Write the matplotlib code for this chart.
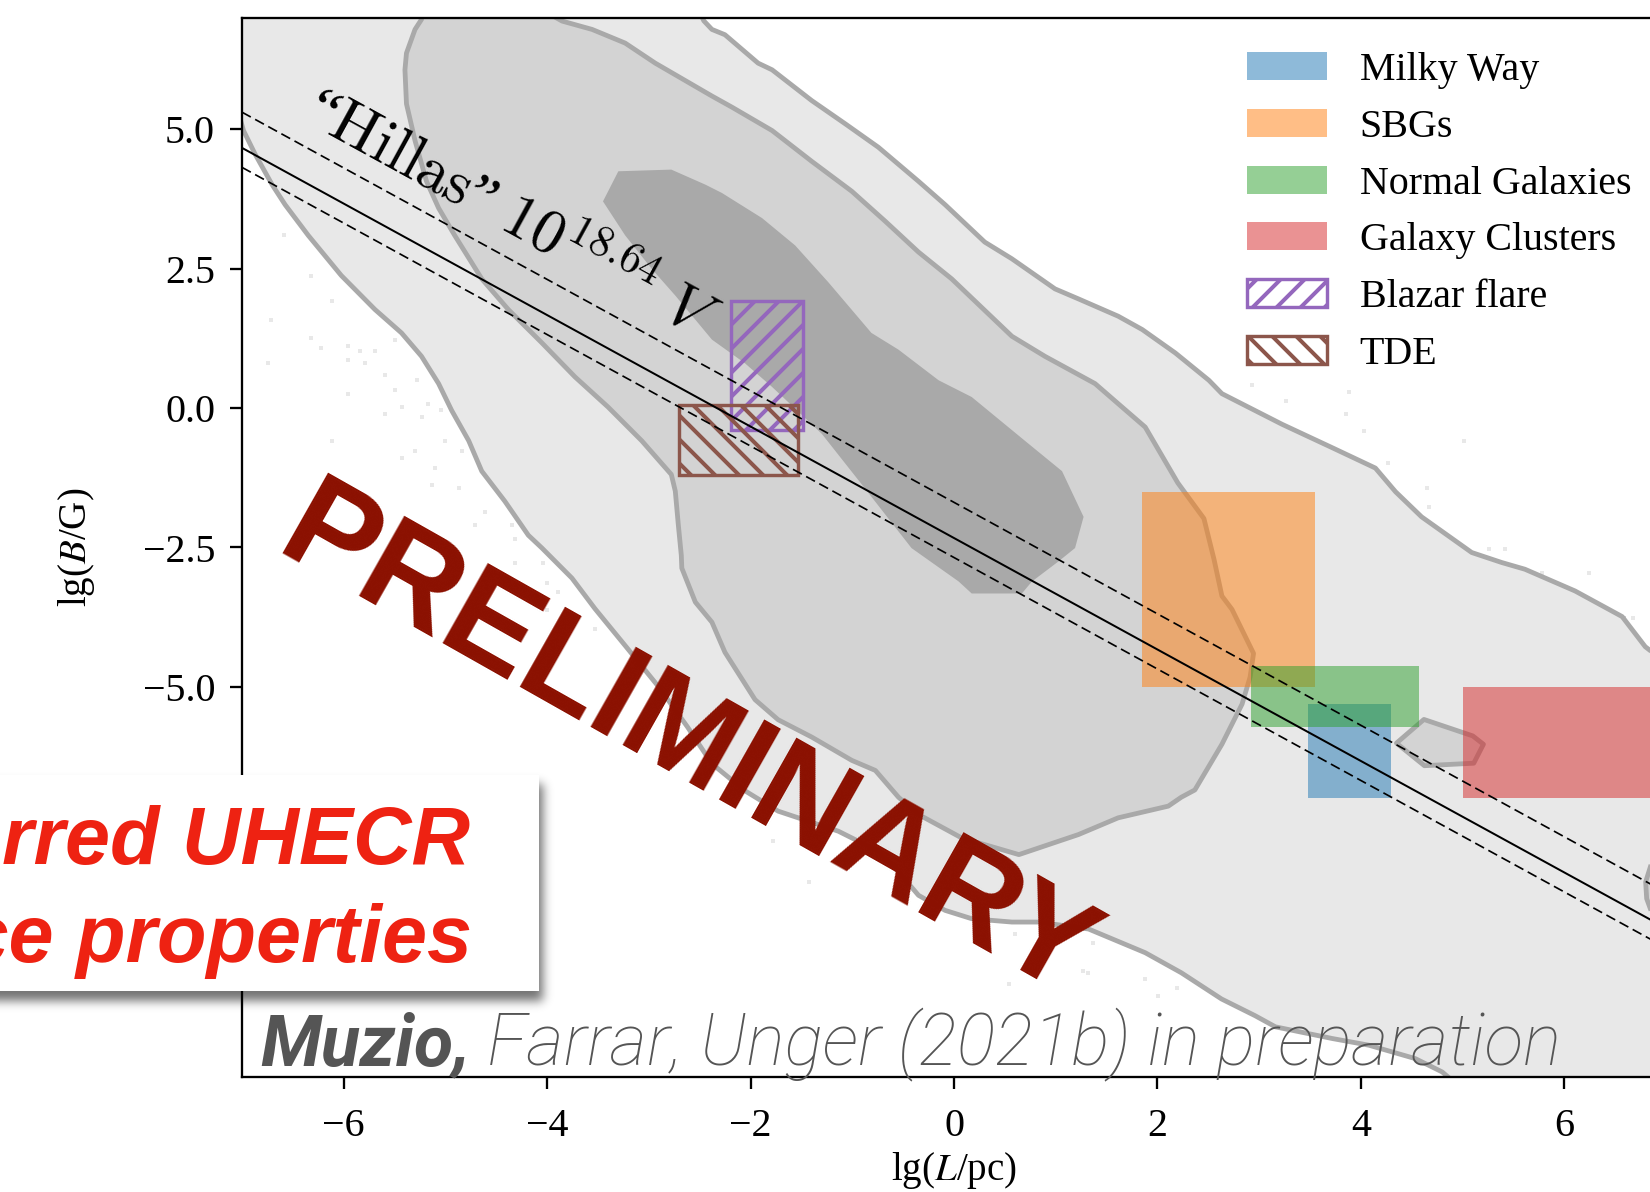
import numpy as np
import matplotlib
matplotlib.use("Agg")
import matplotlib.pyplot as plt
from matplotlib.patches import Polygon, Rectangle

W_PX, H_PX, DPI = 1650, 1192, 144
FS = 20

plt.rcParams.update({
    "font.family": ["Liberation Serif", "DejaVu Serif"],
    "mathtext.fontset": "stix",
    "font.size": FS,
    "hatch.linewidth": 2.0,
    "axes.linewidth": 1.15,
    "xtick.major.size": 6, "ytick.major.size": 6,
    "xtick.major.width": 1.15, "ytick.major.width": 1.15,
    "xtick.major.pad": 9.5, "ytick.major.pad": 7.5,
    "xtick.labelsize": FS, "ytick.labelsize": FS,
})

# ---------------- data ----------------
lgL_limits = [-7.0, 7.0]
lgB_limits = [-12.0, 7.0]

# outer (light) credible region outline
outer_lgL = [-7.02, -7.02, -6.985, -6.872, -6.704, -6.576, -6.349, -6.024, -5.693, -5.432,
             -5.235, -5.067, -4.939, -4.771, -4.643, -4.416, -4.185, -4.051, -3.756, -3.529,
             -3.233, -2.908, -2.62, -2.38, -2.055, -1.729, -1.137, -0.743, -0.546, -0.349,
             -0.088, 0.174, 0.569, 0.830, 1.323, 1.880, 2.235, 2.63, 2.96, 3.16, 3.72, 4.08,
             4.535, 4.80, 5.05, 5.3, 7.8, 7.8, 7.2, 6.796, 6.569, 6.106, 5.613, 5.386, 5.09,
             4.597, 4.341, 4.143, 3.719, 3.226, 2.634, 2.506, 2.176, 1.851, 1.614, 1.224,
             0.993, 0.569, 0.302, -0.087, -0.349, -0.743, -1.068, -1.40, -1.788, -1.926,
             -2.252, -2.38, -2.46, -2.6]
outer_lgB = [7.5, 5.2, 4.98, 4.56, 4.01, 3.65, 3.10, 2.38, 1.77, 1.35,
             0.93, 0.44, -0.04, -0.585, -1.13, -1.67, -2.28, -2.51, -3.05, -3.60,
             -4.26, -4.99, -5.72, -6.38, -6.865, -7.23, -7.59, -7.95, -8.32, -8.74,
             -9.01, -9.16, -9.22, -9.22, -9.345, -9.77, -10.13, -10.60, -10.90, -11.10, -11.31, -11.43,
             -11.67, -11.91, -12.3, -12.8, -12.8, -5.6, -4.85, -4.28, -3.74, -3.28, -2.89, -2.77, -2.59,
             -1.95, -1.50, -1.075, -0.71, -0.29, 0.26, 0.50, 0.99, 1.41, 1.65, 1.96,
             2.14, 2.68, 2.98, 3.65, 4.07, 4.68, 5.10, 5.52, 6.07, 6.19,
             6.70, 6.795, 6.95, 7.5]

# middle credible region outline
mid_lgL = [-5.25, -5.235, -5.299, -5.383, -5.398, -5.383, -5.299, -5.186, -5.067, -4.909,
           -4.643, -4.382, -4.051, -3.726, -3.401, -3.07, -2.779, -2.74, -2.71, -2.681,
           -2.676, -2.543, -2.38, -2.252, -1.956, -1.729, -1.40, -1.004, -0.773, -0.546,
           -0.349, 0.075, 0.638, 1.224, 1.614, 2.107, 2.235, 2.368, 2.634, 2.832, 2.911,
           2.945, 2.733, 2.634, 2.556, 2.457, 2.2, 1.88, 1.614, 1.387, 0.894, 0.569,
           -0.023, -0.349, -0.674, -1.004, -1.40, -1.788, -2.183, -2.38, -2.937, -3.233,
           -3.558, -3.853, -4.3]
mid_lgB = [7.4, 6.975, 6.795, 6.37, 6.07, 5.46, 4.80, 4.07, 3.59, 3.10,
           2.32, 1.77, 1.17, 0.56, 0.02, -0.585, -1.19, -1.49, -2.10, -2.64,
           -2.87, -3.48, -3.84, -4.38, -5.23, -5.59, -5.90, -6.32, -6.50, -6.98,
           -7.29, -7.71, -8.01, -7.65, -7.35, -7.14, -6.98, -6.85, -6.03, -5.31, -4.825,
           -4.40, -3.61, -3.37, -2.71, -1.98, -1.34, -0.34, 0.08, 0.44, 0.93, 1.29,
           2.32, 2.80, 3.35, 3.89, 4.43, 4.98, 5.40, 5.60, 6.19, 6.55,
           6.795, 6.945, 7.4]

# inner (dark) credible region outline
dark_lgL = [-3.451, -3.30, -2.779, -2.444, -2.281, -1.887, -1.562, -1.236, -0.812, -0.546,
            -0.151, 0.174, 0.697, 1.062, 1.274, 1.19, 1.027, 0.766, 0.667, 0.174,
            0.046, -0.279, -0.418, -0.906, -1.30, -1.788, -2.055, -2.38, -2.74, -2.972, -3.233]
dark_lgB = [3.71, 4.25, 4.28, 4.01, 3.86, 3.41, 2.92, 2.26, 1.35, 1.05,
            0.50, 0.20, -0.585, -1.13, -1.95, -2.51, -2.75, -3.11, -3.325, -3.325,
            -3.11, -2.69, -2.51, -1.37, -0.46, 0.38, 0.805, 1.23, 2.02, 2.50, 3.10]

# small detached middle-level islands
island_lgL = [4.35, 4.62, 5.10, 5.205, 5.11, 4.625]
island_lgB = [-6.01, -5.585, -5.88, -6.03, -6.37, -6.415]
edge_lgL = [6.86, 6.80, 6.81, 6.86, 7.5, 7.5]
edge_lgB = [-8.15, -8.5, -8.8, -9.05, -9.4, -7.9]

# individual posterior samples outside the contours
sample_lgL = [-6.59, -6.32, -6.12, -6.71, -6.32, -6.22, -5.955, -5.84, -5.69, -5.50, -6.74,
              -5.955, -5.79, -5.595, -5.50, -5.28, -5.955, -5.595, -5.43, -5.17, -5.23, -5.04,
              -6.12, -5.43, -5.30, -5.005, -5.10, -4.84, -5.135, -4.87, -4.61, -4.71, -4.35,
              -4.32, -4.32, -4.04, -4.00, -3.89, -4.00, -3.53, -1.775, -1.43, 0.60, 1.37,
              1.27, 1.32, 0.54, 1.88, 2.01, 2.19, 2.93, 3.26, 3.88, 3.85, 4.03, 4.27, 4.65,
              4.67, 5.01, 5.26, 5.42, 5.78, 6.24, 6.585, 6.585, 6.68]
sample_lgB = [3.10, 2.38, 1.93, 1.59, 1.26, 1.08, 1.11, 1.02, 1.02, 1.23, 0.81,
              0.87, 0.81, 0.59, 0.32, 0.50, 0.26, -0.10, 0.02, 0.08, -0.16, -0.04,
              -0.585, -0.89, -0.77, -0.585, -1.07, -0.77, -1.37, -1.43, -1.86, -2.10, -2.10,
              -2.34, -2.78, -2.78, -3.14, -3.30, -3.63, -3.96, -7.77, -8.50, -9.43, -9.59,
              -10.10, -10.14, -10.34, -10.25, -10.55, -10.40, 0.41, 0.13, 0.29, -0.11, -0.41, -0.98, -1.44,
              -1.77, -0.59, -2.53, -2.53, -2.95, -2.95, -3.77, -3.77, -3.77]

# source classes: lg(L/pc) and lg(B/G) ranges
source_names = ["Milky Way", "SBGs", "Normal Galaxies", "Galaxy Clusters", "Blazar flare", "TDE"]
source_lgL_lo = [3.48, 1.85, 2.92, 5.00, -2.19, -2.70]
source_lgL_hi = [4.30, 3.55, 4.57, 7.50, -1.48, -1.53]
source_lgB_lo = [-7.00, -5.00, -5.72, -7.00, -0.40, -1.20]
source_lgB_hi = [-5.30, -1.50, -4.62, -5.00, 1.93, 0.05]
source_colors = ["tab:blue", "tab:orange", "tab:green", "tab:red", "tab:purple", "tab:brown"]
source_hatch = [None, None, None, None, "//", "\\\\"]

# Hillas condition lg B = c - lg L (central value and band)
hillas_intercepts = [-1.69, -2.33, -2.68]
hillas_styles = ["--", "-", "--"]

xticks = [-6, -4, -2, 0, 2, 4, 6]
yticks = [-5.0, -2.5, 0.0, 2.5, 5.0]

# ---------------- figure ----------------
fig = plt.figure(figsize=(W_PX / DPI + 1e-6, H_PX / DPI + 1e-6), dpi=DPI)
ax = fig.add_axes([242 / W_PX, (H_PX - 1077) / H_PX, 1424 / W_PX, 1059 / H_PX])
ax.set_xlim(*lgL_limits)
ax.set_ylim(*lgB_limits)

ax.scatter(sample_lgL, sample_lgB, s=6, marker="s", c="k", alpha=0.09, lw=0, zorder=0.5)

line_gray = "#a9a9a9"
for xs, ys, fc, z in [(outer_lgL, outer_lgB, "#e8e8e8", 1.0),
                      (mid_lgL, mid_lgB, "#d3d3d3", 1.2),
                      (island_lgL, island_lgB, "#d3d3d3", 1.2),
                      (edge_lgL, edge_lgB, "#d3d3d3", 1.2)]:
    pts = np.column_stack([xs, ys])
    ax.add_patch(Polygon(pts, closed=True, fc=fc, ec="none", zorder=z))
    ax.add_patch(Polygon(pts, closed=True, fill=False, ec=line_gray, lw=2.4,
                         joinstyle="round", zorder=z + 0.05))
ax.add_patch(Polygon(np.column_stack([dark_lgL, dark_lgB]), closed=True,
                     fc="#a9a9a9", ec="none", zorder=1.4))

for name, x0, x1, y0, y1, col, h in zip(source_names, source_lgL_lo, source_lgL_hi,
                                        source_lgB_lo, source_lgB_hi, source_colors, source_hatch):
    if h is None:
        ax.add_patch(Rectangle((x0, y0), x1 - x0, y1 - y0, fc=col, alpha=0.5, lw=0,
                               label=name, zorder=2))
    else:
        p = Rectangle((x0, y0), x1 - x0, y1 - y0, fc="none", ec=col, hatch=h,
                      lw=1.7, label=name, zorder=3)
        if hasattr(p, "set_hatch_linewidth"):
            p.set_hatch_linewidth(2.0)
        ax.add_patch(p)

lgL_line = np.array(lgL_limits)
for c, ls in zip(hillas_intercepts, hillas_styles):
    if ls == "-":
        ax.plot(lgL_line, c - lgL_line, color="k", lw=1.0, zorder=4)
    else:
        ax.plot(lgL_line, c - lgL_line, color="k", lw=0.85, dashes=(5.9, 2.9), zorder=4)

ax.text(-4.36, 3.45, "\u201c$\\mathrm{Hillas}$\u201d $10^{18.64}\\ V$", rotation=-45,
        transform_rotates_text=True, rotation_mode="anchor", ha="center", va="center",
        fontsize=31, math_fontfamily="cm", zorder=5)

ax.set_xticks(xticks)
ax.set_yticks(yticks)
ax.tick_params(top=False, right=False)
ax.set_xlabel("lg($L$/pc)", fontsize=19.5)
ax.set_ylabel("lg($B$/G)", fontsize=19.5)
ax.xaxis.set_label_coords(0.5, -0.069)
ax.yaxis.set_label_coords(-0.102, 0.5)

leg = ax.legend(loc="upper left", bbox_to_anchor=(1246.7 / W_PX, 1 - 52 / H_PX),
                bbox_transform=fig.transFigure, frameon=False, borderpad=0,
                borderaxespad=0, handlelength=2.0, handleheight=0.7,
                handletextpad=0.82, labelspacing=0.495, fontsize=FS)
leg.set_zorder(10)

# watermark
fig.text(669 / W_PX, 1 - 777 / H_PX, "PRELIMINARY", rotation=-29.5, rotation_mode="anchor",
         ha="center", va="baseline", fontsize=66.5, fontweight="bold",
         family="Liberation Sans", color="#8B1000", zorder=8)

# callout box with soft drop shadow
box_right, box_top, box_bottom = 539, 775, 991
reg_x0, reg_x1, reg_y0, reg_y1 = 0, 620, 730, 1060
yy, xx = np.mgrid[reg_y0:reg_y1, reg_x0:reg_x1]
mask = ((xx <= box_right + 3) & (yy >= box_top + 9) & (yy <= box_bottom + 9)).astype(float)
sig = 5.0
t = np.arange(-15, 16)
k = np.exp(-0.5 * (t / sig) ** 2)
k /= k.sum()
padded = np.pad(mask, 15, mode="edge")
blur = np.apply_along_axis(lambda r: np.convolve(r, k, mode="same"), 1, padded)
blur = np.apply_along_axis(lambda c: np.convolve(c, k, mode="same"), 0, blur)[15:-15, 15:-15]
shadow = np.zeros(mask.shape + (4,))
shadow[..., 3] = 0.55 * blur
fig.figimage(shadow, xo=reg_x0, yo=H_PX - reg_y1, origin="upper", zorder=6)
fig.patches.append(Rectangle((-0.1, 1 - box_bottom / H_PX), box_right / W_PX + 0.1,
                             (box_bottom - box_top) / H_PX, transform=fig.transFigure,
                             fc="white", ec="none", zorder=7))
red = "#EE2212"
fig.text(470 / W_PX, 1 - 864 / H_PX, "Inferred UHECR", ha="right", va="baseline",
         fontsize=40.5, fontweight="bold", style="italic", family="Liberation Sans",
         color=red, zorder=9)
fig.text(472 / W_PX, 1 - 962 / H_PX, "source properties", ha="right", va="baseline",
         fontsize=40.5, fontweight="bold", style="italic", family="Liberation Sans",
         color=red, zorder=9)

# citation line, sized to run from x=260 px to x=1560 px
cite_x0, cite_x1, cite_base = 260, 1560, 1065


def draw_citation(size):
    a = fig.text(cite_x0 / W_PX, 1 - cite_base / H_PX, "Muzio,", ha="left", va="baseline",
                 fontsize=size, fontweight="bold", style="italic", family="Roboto",
                 color="#555555", zorder=9)
    fig.canvas.draw()
    x_end = a.get_window_extent().x1
    b = fig.text(x_end / W_PX, 1 - cite_base / H_PX, " Farrar, Unger (2021b) in preparation",
                 ha="left", va="baseline", fontsize=size, fontweight="light", style="italic",
                 family="Roboto", color="#555555", zorder=9)
    fig.canvas.draw()
    return a, b


size = 33.5
a, b = draw_citation(size)
width = b.get_window_extent().x1 - cite_x0
a.remove()
b.remove()
draw_citation(size * (cite_x1 - cite_x0) / width)

fig.savefig("out.png", dpi=DPI)
